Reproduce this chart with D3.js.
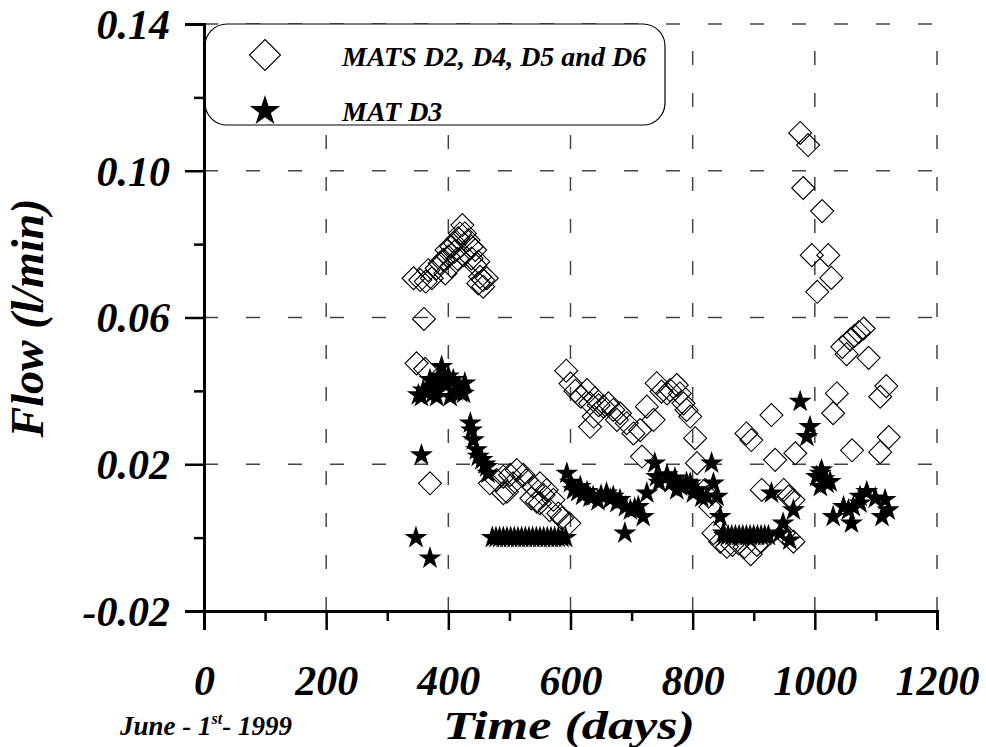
<!DOCTYPE html>
<html><head><meta charset="utf-8">
<script src="https://cdn.jsdelivr.net/npm/d3@7"></script>
<style>
body{margin:0;background:#fff;}
text{font-family:"Liberation Serif","Times New Roman",serif;font-weight:bold;font-style:italic;fill:#000;}
</style></head>
<body><svg id="c" width="986" height="747"></svg>
<script>
// ---- data ----
const xTicks = [0,200,400,600,800,1000,1200];
const xMinor = [100,300,500,700,900,1100];
const yTicks = [-0.02,0.02,0.06,0.10,0.14];
const yMinor = [0,0.04,0.08,0.12];
const seriesNames = ["MATS D2, D4, D5 and D6","MAT D3"];

const matsDays = [343,354,363,373,367,381,386,392,400,397,405,410,411,416,419,423,427,433,438,444,438,449,444,452,457,463,449,457,395,405,415,425,360,348,362,370,
468,479,490,501,512,523,506,496,490,528,539,550,561,572,556,550,566,580,586,598,536,545,
593,600,608,617,627,632,640,638,632,646,654,662,670,681,676,692,703,714,717,736,725,741,749,758,763,774,779,785,790,796,804,807,
820,826,829,834,845,856,865,875,885,895,905,912,888,896,913,929,935,949,957,965,949,965,968,
976,989,981,1012,995,1004,1022,1027,1030,1036,1045,1052,1058,1065,1072,1080,1088,1061,1107,1117,1107,1121];
const matsFlow = [0.0707,0.0702,0.0698,0.0707,0.0729,0.0734,0.0748,0.0757,0.0766,0.0784,0.0793,0.0779,0.0802,0.0816,0.0829,0.0852,0.0829,0.0811,0.0793,0.0784,0.0761,0.0752,0.0743,0.0711,0.0702,0.0707,0.0693,0.0684,0.0720,0.0740,0.0760,0.0770,0.0596,0.0475,0.0460,0.0148,
0.0148,0.0157,0.0166,0.0171,0.0184,0.0171,0.0148,0.0125,0.0121,0.0157,0.0139,0.0148,0.0130,0.0103,0.0116,0.0094,0.0075,0.0066,0.0053,0.0039,0.0107,0.0098,
0.0455,0.0420,0.0400,0.0384,0.0402,0.0366,0.0380,0.0330,0.0302,0.0361,0.0357,0.0366,0.0348,0.0339,0.0321,0.0312,0.0284,0.0293,0.0221,0.0321,0.0357,0.0421,0.0398,0.0393,0.0402,0.0416,0.0393,0.0366,0.0348,0.0330,0.0271,0.0203,
0.0130,0.0112,0.0084,0.0012,-0.0011,-0.0025,-0.0020,-0.0015,-0.0025,-0.0045,-0.0020,-0.0011,0.0284,0.0266,0.0130,0.0334,0.0212,0.0130,0.0112,0.0103,0.0012,-0.0011,0.0230,
0.1103,0.1070,0.0953,0.0890,0.0770,0.0670,0.0770,0.0708,0.0339,0.0393,0.0520,0.0500,0.0540,0.0550,0.0560,0.0570,0.0490,0.0238,0.0384,0.0413,0.0233,0.0274];

const d3Days = [347,356,370,
351,356,359,365,370,375,378,381,386,389,392,397,400,403,408,412,416,420,425,427,436,438,441,446,449,455,460,463,465,
472,478,484,490,496,502,508,514,520,526,532,538,544,550,556,562,568,574,580,586,592,
594,600,605,612,616,620,627,632,637,645,650,659,665,670,676,681,689,690,698,705,711,719,725,738,741,745,758,765,771,774,780,785,790,796,801,807,815,823,831,834,840,845,850,
852,858,864,870,876,882,888,894,900,906,912,918,924,
929,943,948,959,965,976,987,992,1003,1009,1011,1009,1015,1020,1025,
1030,1047,1055,1060,1063,1074,1074,1085,1099,1110,1115,1120];
const d3Flow = [0.0000,0.0225,-0.0056,
0.0389,0.0384,0.0402,0.0395,0.0430,0.0393,0.0410,0.0384,0.0439,0.0466,0.0420,0.0416,0.0440,0.0384,0.0430,0.0400,0.0411,0.0395,0.0393,0.0421,0.0312,0.0293,0.0266,0.0239,0.0221,0.0212,0.0200,0.0193,0.0175,
0,0,0,0,0,0,0,0,0,0,0,0,0,0,0,0,0,0,0,0,0,
0.0175,0.0150,0.0130,0.0125,0.0139,0.0115,0.0125,0.0110,0.0112,0.0100,0.0115,0.0121,0.0105,0.0112,0.0095,0.0103,0.0012,0.0084,0.0075,0.0080,0.0084,0.0057,0.0121,0.0203,0.0166,0.0150,0.0171,0.0150,0.0162,0.0130,0.0140,0.0139,0.0150,0.0148,0.0121,0.0130,0.0110,0.0112,0.0203,0.0148,0.0112,0.0057,0.0012,
0.0005,0.0005,0.0005,0.0005,0.0005,0.0005,0.0005,0.0005,0.0005,0.0005,0.0005,0.0005,0.0005,
0.0121,0.0012,0.0039,-0.0007,0.0075,0.0371,0.0275,0.0302,0.0166,0.0175,0.0184,0.0139,0.0160,0.0148,0.0152,
0.0057,0.0084,0.0075,0.0039,0.0084,0.0112,0.0094,0.0125,0.0107,0.0057,0.0103,0.0075];

// ---- chart ----
const svg = d3.select("#c");
const x = d3.scaleLinear().domain([0,1200]).range([204,937]);
const y = d3.scaleLinear().domain([-0.02,0.14]).range([611,24]);

// grid
const grid = svg.append("g").attr("stroke","#444").attr("stroke-width",1.5).attr("stroke-dasharray","14,28");
grid.selectAll(".gv").data(xTicks.slice(1)).join("line")
  .attr("x1",d=>x(d)).attr("x2",d=>x(d)).attr("y1",y(-0.02)).attr("y2",y(0.14));
grid.selectAll(".gh").data(yTicks.slice(1)).join("line")
  .attr("y1",d=>y(d)).attr("y2",d=>y(d)).attr("x1",x(0)).attr("x2",x(1200));

const diamond = h => `M0,${-h}L${h},0L0,${h}L${-h},0Z`;
const star = d3.symbol().type(d3.symbolStar);

// diamonds
svg.append("g").selectAll("path").data(matsDays.map((d,i)=>[d,matsFlow[i]])).join("path")
  .attr("d",diamond(11.5)).attr("transform",d=>`translate(${x(d[0])},${y(d[1])})`)
  .attr("fill","none").attr("stroke","#000").attr("stroke-width",1.1);
// stars
svg.append("g").selectAll("path").data(d3Days.map((d,i)=>[d,d3Flow[i]])).join("path")
  .attr("d",star.size(165)()).attr("transform",d=>`translate(${x(d[0])},${y(d[1])})`)
  .attr("fill","#000");

// legend
const lg = svg.append("g");
lg.append("rect").attr("x",205).attr("y",24).attr("width",460).attr("height",101).attr("rx",22)
  .attr("fill","#fff").attr("stroke","#000").attr("stroke-width",1.2);
lg.append("path").attr("d",diamond(15.5)).attr("transform","translate(265,55)")
  .attr("fill","none").attr("stroke","#000").attr("stroke-width",1.1);
lg.append("path").attr("d",star.size(290)()).attr("transform","translate(265,111)").attr("fill","#000");
lg.append("text").attr("x",342).attr("y",66).attr("font-size",28).text(seriesNames[0]);
lg.append("text").attr("x",342).attr("y",121).attr("font-size",28).text(seriesNames[1]);

// axes
svg.append("g").attr("transform",`translate(0,${y(-0.02)})`)
  .call(d3.axisBottom(x).tickValues(xTicks).tickSize(19).tickPadding(35).tickFormat(d3.format("d")));
svg.append("g").attr("transform",`translate(0,${y(-0.02)})`)
  .call(d3.axisBottom(x).tickValues(xMinor).tickSize(10).tickFormat(""));
const ya = svg.append("g").attr("transform",`translate(${x(0)},0)`)
  .call(d3.axisLeft(y).tickValues(yTicks).tickSize(19).tickPadding(15).tickFormat(d=>d3.format(".2f")(d).replace("−","-")));
svg.append("g").attr("transform",`translate(${x(0)},0)`)
  .call(d3.axisLeft(y).tickValues(yMinor).tickSize(10).tickFormat(""));
svg.selectAll(".domain").attr("stroke","#000").attr("stroke-width",3);
svg.selectAll(".tick line").attr("stroke","#000").attr("stroke-width",2.5);
svg.selectAll(".tick text").attr("font-size",42).attr("font-family",null);
ya.selectAll(".tick text").attr("dy","0.34em");

// titles
svg.append("text").attr("x",443).attr("y",739).attr("font-size",41)
  .attr("textLength",252).attr("lengthAdjust","spacingAndGlyphs").text("Time (days)");
svg.append("text").attr("transform","translate(43,318) rotate(-90)").attr("text-anchor","middle").attr("font-size",46).text("Flow (l/min)");
const jt = svg.append("text").attr("x",120).attr("y",735).attr("font-size",27);
jt.append("tspan").text("June - 1");
jt.append("tspan").attr("font-size",16).attr("dy",-11).text("st");
jt.append("tspan").attr("dy",11).text("- 1999");
</script></body></html>
